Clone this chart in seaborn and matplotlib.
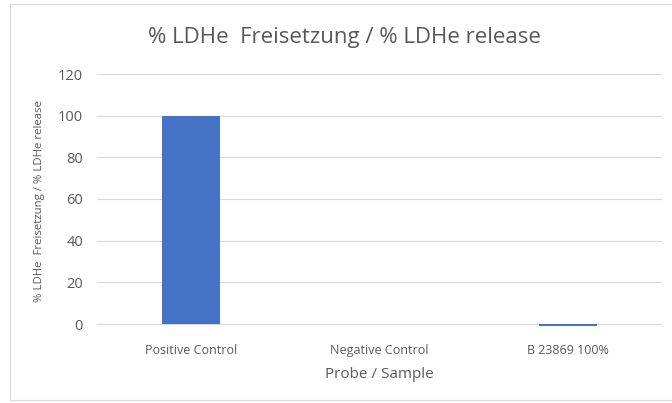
import matplotlib
matplotlib.use("Agg")
import matplotlib.pyplot as plt
import seaborn as sns
import pandas as pd
from matplotlib.patches import Rectangle

categories = ["Positive Control", "Negative Control", "B 23869 100%"]
values = [100, 0, -0.8]
yticks = [0, 20, 40, 60, 80, 100, 120]

sns.set_theme(style="white")
plt.rcParams['font.family'] = ['Open Sans', 'DejaVu Sans']

df = pd.DataFrame({"cat": categories, "val": values})

fig = plt.figure(figsize=(6.72, 4.03), dpi=100)
fig.patch.set_facecolor("white")
# chart frame
fig.add_artist(Rectangle((10/672, 3/403), 680/672, 396/403, transform=fig.transFigure,
                         fill=False, edgecolor="#D9D9D9", linewidth=0.8))

ymin, ymax = -1.5, 120
bottom_px, top_px = 324, 74
scale = (bottom_px - top_px) / 120.0
ax_bottom_px = bottom_px + (0 - ymin) * scale
ax = fig.add_axes([97/672, 1 - ax_bottom_px/403, (662-97)/672, (ax_bottom_px - top_px)/403])

sns.barplot(data=df, x="cat", y="val", color="#4472C4", width=0.31, saturation=1,
            linewidth=0, edgecolor="none", ax=ax)
ax.set_ylim(ymin, ymax)
ax.set_yticks(yticks)
ax.set_yticklabels([str(t) for t in yticks])
ax.yaxis.grid(True, color="#D9D9D9", linewidth=0.8)
ax.set_axisbelow(True)
for s in ax.spines.values():
    s.set_visible(False)
ax.tick_params(axis="both", length=0, colors="#595959", labelsize=9)
ax.tick_params(axis="y", labelsize=10.5, pad=10)
ax.tick_params(axis="x", pad=12)
ax.set_xlabel("Probe / Sample", color="#595959", fontsize=11, labelpad=7)
ax.set_ylabel("% LDHe  Freisetzung / % LDHe release", color="#595959", fontsize=8.2, labelpad=9)
fig.text(0.513, 1 - 38/403, "% LDHe  Freisetzung / % LDHe release", ha="center", va="center",
         fontsize=16, color="#595959")

fig.savefig("out.png", dpi=100, facecolor="white")
